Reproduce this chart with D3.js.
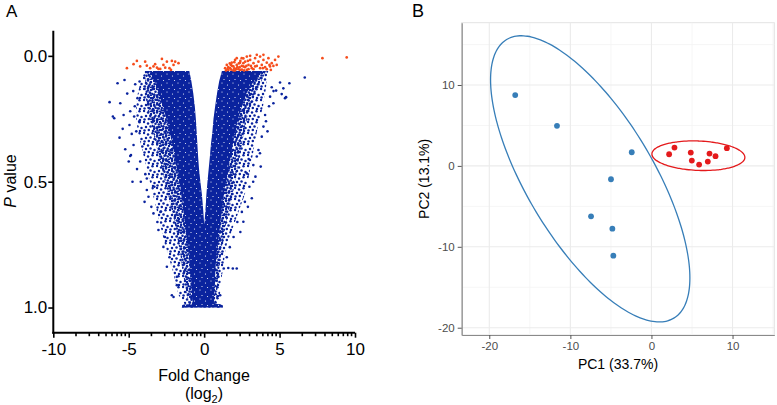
<!DOCTYPE html>
<html><head><meta charset="utf-8">
<script src="https://cdn.jsdelivr.net/npm/d3@7"></script>
<style>
body{margin:0;background:#fff}
svg{display:block}
text{font-family:"Liberation Sans",Arial,Helvetica,sans-serif}
</style>
</head><body>
<svg id="c" width="777" height="405"></svg>
<script>
// ---------- Panel A: volcano plot data ----------
const fcTicks = [-10, -5, 0, 5, 10];
const fcTickLabels = ["-10", "-5", "0", "5", "10"];
const pTicks = [0, 0.5, 1.0];
const pTickLabels = ["0.0", "0.5", "1.0"];

// dense cloud envelope (p value levels, fold-change bounds)
const pLevels    = [0.06, 0.1, 0.15, 0.2, 0.25, 0.3, 0.35, 0.4, 0.45, 0.5, 0.55, 0.6, 0.65, 0.7, 0.75, 0.8, 0.85, 0.9, 0.95, 0.985, 0.99, 1.0];
const outerLeft  = [-3.95, -4.2, -4.4, -4.5, -4.5, -4.4, -4.2, -4.0, -3.8, -3.6, -3.4, -3.2, -3.0, -2.8, -2.6, -2.35, -2.1, -1.9, -1.7, -1.3, -1.45, -1.48];
const midLeft    = [-3.85, -3.9, -3.9, -3.8, -3.6, -3.4, -3.2, -3.0, -2.8, -2.6, -2.4, -2.2, -2.0, -1.85, -1.7, -1.55, -1.45, -1.3, -1.15, -1.0, -1.45, -1.48];
const coreLeft   = [-3.6, -3.3, -3.0, -2.75, -2.5, -2.3, -2.1, -1.95, -1.8, -1.65, -1.5, -1.4, -1.3, -1.2, -1.1, -1.0, -0.95, -0.85, -0.8, -0.75, -1.45, -1.48];
const coreRight  = [3.9, 3.3, 2.8, 2.5, 2.25, 2.05, 1.9, 1.75, 1.6, 1.45, 1.3, 1.2, 1.1, 1.0, 0.9, 0.8, 0.75, 0.7, 0.65, 0.65, 1.2, 1.24];
const midRight   = [4.1, 3.8, 3.4, 3.1, 2.85, 2.65, 2.5, 2.35, 2.2, 2.05, 1.9, 1.7, 1.5, 1.35, 1.2, 1.1, 1.0, 0.9, 0.85, 0.8, 1.2, 1.24];
const outerRight = [4.25, 4.15, 4.05, 3.9, 3.7, 3.5, 3.35, 3.2, 3.05, 2.9, 2.7, 2.4, 2.1, 1.8, 1.5, 1.35, 1.25, 1.1, 1.05, 0.9, 1.2, 1.24];
// white V-shaped gap inside the cloud
const gapLevels = [0.055, 0.1, 0.15, 0.2, 0.25, 0.3, 0.35, 0.4, 0.45, 0.5, 0.55, 0.6, 0.65, 0.67];
const gapLeft   = [-1.0, -0.85, -0.72, -0.62, -0.55, -0.5, -0.45, -0.4, -0.34, -0.25, -0.15, -0.08, -0.02, 0.01];
const gapRight  = [1.2, 1.0, 0.85, 0.73, 0.62, 0.55, 0.45, 0.38, 0.3, 0.22, 0.15, 0.1, 0.04, 0.01];

// isolated (non-significant) points outside the dense cloud
const blueFC = [-5.74,-5.28,-6.27,-5.56,-6.05,-5.96,-5.34,-5.61,-4.57,-4.28,-4.42,-4.64,-4.95,-4.68,-4.85,-4.24,-3.8,-5.23,-4.9,-3.8,-3.69,-3.36,-3.03,-2.7,-2.47,-2.03,-1.81,-2.14,-1.81,-4.5,-4.6,-4.45,
  -5.1,-4.8,-5.0,-4.7,-4.3,-4.9,-4.1,-3.9,-3.5,-3.3,-3.1,-2.9,-2.6,-2.3,-5.4,-4.75,-4.2,-3.95,
  6.67,5.65,5.03,5.25,4.77,5.14,5.43,4.48,4.37,4.59,4.04,3.93,3.82,3.6,3.49,3.26,5.36,3.7,3.16,2.83,2.6,2.16,1.9,1.6,1.3,0.95,1.06,3.0,2.9,2.4,4.3,
  4.2,3.75,3.4,3.25,2.95,2.7,2.5,2.2,1.95,1.7,1.5,4.6,4.1];
const blueP  = [0.109,0.096,0.184,0.188,0.241,0.248,0.235,0.325,0.113,0.102,0.168,0.241,0.275,0.354,0.394,0.42,0.487,0.371,0.398,0.533,0.56,0.626,0.692,0.759,0.838,0.958,0.911,0.951,0.878,0.3,0.2,0.45,
  0.15,0.31,0.42,0.14,0.26,0.22,0.36,0.47,0.6,0.52,0.66,0.62,0.72,0.8,0.29,0.5,0.5,0.58,
  0.086,0.109,0.106,0.129,0.138,0.152,0.164,0.125,0.162,0.188,0.235,0.281,0.321,0.374,0.4,0.434,0.168,0.387,0.566,0.467,0.659,0.845,0.845,0.843,0.845,0.878,0.951,0.52,0.6,0.7,0.2,
  0.3,0.44,0.48,0.5,0.41,0.58,0.62,0.66,0.72,0.76,0.8,0.14,0.26];

// significant points (orange-red)
const redFC = [-5.12,-4.68,-4.46,-4.24,-3.91,-3.8,-3.58,-3.36,-3.25,-3.03,-2.8,-2.7,-2.47,-2.3,-2.14,-2.03,-1.92,-1.7,-2.91,-3.13,-2.2,-2.58,
  1.50,1.72,1.83,1.94,2.05,2.16,2.27,2.38,2.49,2.60,2.72,2.83,2.94,3.05,3.16,3.27,3.38,3.49,3.60,3.71,3.82,3.93,4.04,4.15,4.26,4.37,4.48,4.59,4.70,4.92,
  1.61,1.94,2.38,2.83,3.27,3.71,4.15,2.16,3.05,3.93,2.60,3.49,1.39,1.77,2.12,2.49,2.94,3.38,3.89,4.33,4.81,4.42,
  1.45,1.6,1.8,2.0,2.2,2.3,2.5,2.7,2.9,1.7,2.0,2.4,2.6,2.8,3.1,1.55,1.85,2.05,2.35,2.65,
  7.84,9.45];
const redP = [0.049,0.033,0.020,0.042,0.023,0.039,0.049,0.042,0.033,0.052,0.012,0.036,0.023,0.049,0.020,0.036,0.023,0.029,0.052,0.047,0.056,0.047,
  0.036,0.049,0.027,0.042,0.016,0.036,0.053,0.027,0.009,0.042,0.023,0.003,0.036,0.016,0.049,0.029,0.009,0.040,0.023,0.003,0.036,0.016,0.045,0.027,0.009,0.042,0.029,0.040,0.016,0.003,
  0.056,0.058,0.056,0.056,0.053,0.049,0.053,0.009,0.0,-0.004,0.029,-0.004,0.049,0.036,0.052,0.040,0.053,0.042,0.049,0.036,0.036,0.056,
  0.058,0.045,0.055,0.05,0.045,0.03,0.055,0.045,0.02,0.03,0.025,0.02,0.01,0.04,0.04,0.052,0.04,0.058,0.045,0.058,
  0.009,0.006];

// ---------- Panel B: PCA data ----------
const pcTicks = [-20, -10, 0, 10];
const pcMinor = [-15, -5, 5, 15];
const groupBlueX = [-16.8, -11.65, -2.43, -4.99, -7.45, -4.82, -4.70];
const groupBlueY = [8.75, 4.95, 1.69, -1.65, -6.23, -7.76, -11.1];
const groupRedX  = [2.18, 2.84, 4.85, 4.98, 5.88, 6.95, 7.16, 7.9, 9.30];
const groupRedY  = [1.44, 2.27, 1.65, 0.66, 0.16, 0.53, 1.52, 1.2, 2.19];
// ellipse: centre x, centre y, then shape terms (a, b, c) : x = cx + a cos t ; y = cy + b cos t + c sin t
const ellipseBlue = [-7.55, -1.6, 12.29, -12.24, 12.77];
const ellipseRed  = [5.79, 1.26, 5.73, -0.208, 1.818];

const BLUE_A = "#0a239e", RED_A = "#f64d1c";
const BLUE_B = "#377EB8", RED_B = "#E41A1C";

const svg = d3.select("#c");
const defs = svg.append("defs");
// speckle textures (style only)
function pattern(id, w, h, dots, r, bg, fg){
  const p = defs.append("pattern").attr("id",id).attr("patternUnits","userSpaceOnUse").attr("width",w).attr("height",h);
  if (bg) p.append("rect").attr("width",w).attr("height",h).attr("fill",bg);
  dots.forEach(([x,y])=>p.append("circle").attr("cx",x).attr("cy",y).attr("r",r).attr("fill",fg));
}
pattern("sparse", 13, 11, [[1,1],[5,2.5],[9.5,1.2],[3,6],[7.5,5.5],[11.5,7],[1.5,9.5],[5.8,9],[10,10]], 1.25, null, BLUE_A);
pattern("mid", 9, 8, [[1,1],[4,0.5],[7,2],[2.5,3.8],[5.8,4.5],[8.5,6],[1,6.5],[4.2,7.2],[6.8,7.8]], 1.25, null, BLUE_A);
pattern("core", 11, 9, [[2,2],[7.5,4],[4,7.5],[9.5,8.5]], 0.55, BLUE_A, "#ffffff");

// ================= Panel A =================
const xA = d3.scaleLinear().domain([-10, 10]).range([53.3, 355]);
const yA = d3.scaleLinear().domain([-0.1, 1.1]).range([30.7, 332.7]);
const gA = svg.append("g");

const levelsIdx = d3.range(pLevels.length);
const areaH = (lo, hi, lev) => d3.area()
  .y(i => yA(lev[i])).x0(i => xA(lo[i])).x1(i => xA(hi[i])).curve(d3.curveLinear);

gA.append("path").attr("d", areaH(outerLeft, outerRight, pLevels)(levelsIdx)).attr("fill","url(#sparse)");
gA.append("path").attr("d", areaH(midLeft, midRight, pLevels)(levelsIdx)).attr("fill","url(#mid)");
gA.append("path").attr("d", areaH(coreLeft, coreRight, pLevels)(levelsIdx)).attr("fill","url(#core)");
const gapIdx = d3.range(gapLevels.length);
gA.append("path").attr("d", areaH(gapLeft, gapRight, gapLevels)(gapIdx)).attr("fill","#fff");

gA.append("g").selectAll("circle").data(d3.range(blueFC.length)).join("circle")
  .attr("cx", i => xA(blueFC[i])).attr("cy", i => yA(blueP[i])).attr("r",1.3).attr("fill",BLUE_A);
gA.append("g").selectAll("circle").data(d3.range(redFC.length)).join("circle")
  .attr("cx", i => xA(redFC[i])).attr("cy", i => yA(redP[i])).attr("r",1.35).attr("fill",RED_A);

// axes A
const axXA = gA.append("g").attr("transform",`translate(0,${yA.range()[1]})`)
  .call(d3.axisBottom(xA).tickValues(fcTicks).tickFormat((d,i)=>fcTickLabels[i]).tickSize(5).tickPadding(5).tickSizeOuter(0));
const minorFC = [];
[-10,-5,0,5].forEach(s => d3.range(2,10).forEach(k => minorFC.push(s + 5*Math.log10(k))));
axXA.selectAll(".minor").data(minorFC).join("line").attr("class","minor")
  .attr("x1", d=>xA(d)).attr("x2", d=>xA(d)).attr("y1",0).attr("y2",3.5).attr("stroke","#000").attr("stroke-width",1.6);
const axYA = gA.append("g").attr("transform",`translate(${xA.range()[0]},0)`)
  .call(d3.axisLeft(yA).tickValues(pTicks).tickFormat((d,i)=>pTickLabels[i]).tickSize(5).tickPadding(1).tickSizeOuter(0));
[axXA, axYA].forEach(a => {
  a.select(".domain").attr("stroke","#000").attr("stroke-width",2);
  a.selectAll(".tick line").attr("stroke","#000").attr("stroke-width",1.6);
  a.selectAll(".tick text").attr("font-size",17).attr("fill","#000").attr("font-family","Liberation Sans, Arial, sans-serif");
});
axYA.select(".domain").attr("d", `M0,${yA.range()[0]}V${yA.range()[1]+1}`);
axXA.select(".domain").attr("d", `M${xA.range()[0]-1},0H${xA.range()[1]}`);

gA.append("text").attr("x",204).attr("y",381).attr("text-anchor","middle").attr("font-size",16).text("Fold Change");
const lg = gA.append("text").attr("x",204).attr("y",399).attr("text-anchor","middle").attr("font-size",16);
lg.append("tspan").text("(log");
lg.append("tspan").attr("font-size",11).attr("dy",4).text("2");
lg.append("tspan").attr("dy",-4).text(")");
const pv = gA.append("text").attr("transform","translate(16,181) rotate(-90)").attr("text-anchor","middle").attr("font-size",16);
pv.append("tspan").attr("font-style","italic").text("P");
pv.append("tspan").text(" value");
svg.append("text").attr("x",6).attr("y",17).attr("font-size",17).text("A");

// ================= Panel B =================
const xB = d3.scaleLinear().domain([-23.4, 15.15]).range([461.7, 774.3]);
const yB = d3.scaleLinear().domain([-20.9, 17.7]).range([335, 22.7]);
const gB = svg.append("g");
const [L,R] = xB.range(), [B,T] = yB.range();
gB.append("rect").attr("x",L).attr("y",T).attr("width",R-L).attr("height",B-T).attr("fill","#fff").attr("stroke","#e3e3e3").attr("stroke-width",1);
gB.selectAll(".gxm").data(pcMinor.filter(d=>d>xB.domain()[0]&&d<xB.domain()[1])).join("line")
  .attr("x1",d=>xB(d)).attr("x2",d=>xB(d)).attr("y1",T).attr("y2",B).attr("stroke","#f4f4f4").attr("stroke-width",0.8);
gB.selectAll(".gym").data(pcMinor.filter(d=>d>yB.domain()[0]&&d<yB.domain()[1])).join("line")
  .attr("y1",d=>yB(d)).attr("y2",d=>yB(d)).attr("x1",L).attr("x2",R).attr("stroke","#f4f4f4").attr("stroke-width",0.8);
gB.selectAll(".gx").data(pcTicks).join("line")
  .attr("x1",d=>xB(d)).attr("x2",d=>xB(d)).attr("y1",T).attr("y2",B).attr("stroke","#ebebeb").attr("stroke-width",1.1);
gB.selectAll(".gy").data(pcTicks).join("line")
  .attr("y1",d=>yB(d)).attr("y2",d=>yB(d)).attr("x1",L).attr("x2",R).attr("stroke","#ebebeb").attr("stroke-width",1.1);

function ell(p){
  const t = d3.range(0, 360, 3).map(a => a*Math.PI/180);
  return d3.line().x(a => xB(p[0] + p[2]*Math.cos(a))).y(a => yB(p[1] + p[3]*Math.cos(a) + p[4]*Math.sin(a))).curve(d3.curveCardinalClosed)(t);
}
gB.append("path").attr("d", ell(ellipseBlue)).attr("fill","none").attr("stroke",BLUE_B).attr("stroke-width",1.3);
gB.append("path").attr("d", ell(ellipseRed)).attr("fill","none").attr("stroke",RED_B).attr("stroke-width",1.3);
gB.selectAll(".pb").data(d3.range(groupBlueX.length)).join("circle")
  .attr("cx",i=>xB(groupBlueX[i])).attr("cy",i=>yB(groupBlueY[i])).attr("r",2.9).attr("fill",BLUE_B);
gB.selectAll(".pr").data(d3.range(groupRedX.length)).join("circle")
  .attr("cx",i=>xB(groupRedX[i])).attr("cy",i=>yB(groupRedY[i])).attr("r",2.9).attr("fill",RED_B);

const axXB = gB.append("g").attr("transform",`translate(0,${B})`)
  .call(d3.axisBottom(xB).tickValues(pcTicks).tickSize(4).tickPadding(3).tickSizeOuter(0));
const axYB = gB.append("g").attr("transform",`translate(${L},0)`)
  .call(d3.axisLeft(yB).tickValues(pcTicks).tickSize(4).tickPadding(3).tickSizeOuter(0));
[axXB, axYB].forEach(a => {
  a.select(".domain").attr("stroke","#8a8a8a").attr("stroke-width",1.2);
  a.selectAll(".tick line").attr("stroke","#555").attr("stroke-width",1);
  a.selectAll(".tick text").attr("font-size",11.5).attr("fill","#4d4d4d").attr("font-family","Liberation Sans, Arial, sans-serif");
});
axXB.selectAll(".tick text").text(d => d < 0 ? "-" + Math.abs(d) : d);
axYB.selectAll(".tick text").text(d => d < 0 ? "-" + Math.abs(d) : d);

gB.append("text").attr("x",(L+R)/2).attr("y",369).attr("text-anchor","middle").attr("font-size",14).text("PC1 (33.7%)");
gB.append("text").attr("transform",`translate(429,${(T+B)/2}) rotate(-90)`).attr("text-anchor","middle").attr("font-size",14).text("PC2 (13.1%)");
svg.append("text").attr("x",412).attr("y",17).attr("font-size",18).text("B");
</script>
</body></html>
